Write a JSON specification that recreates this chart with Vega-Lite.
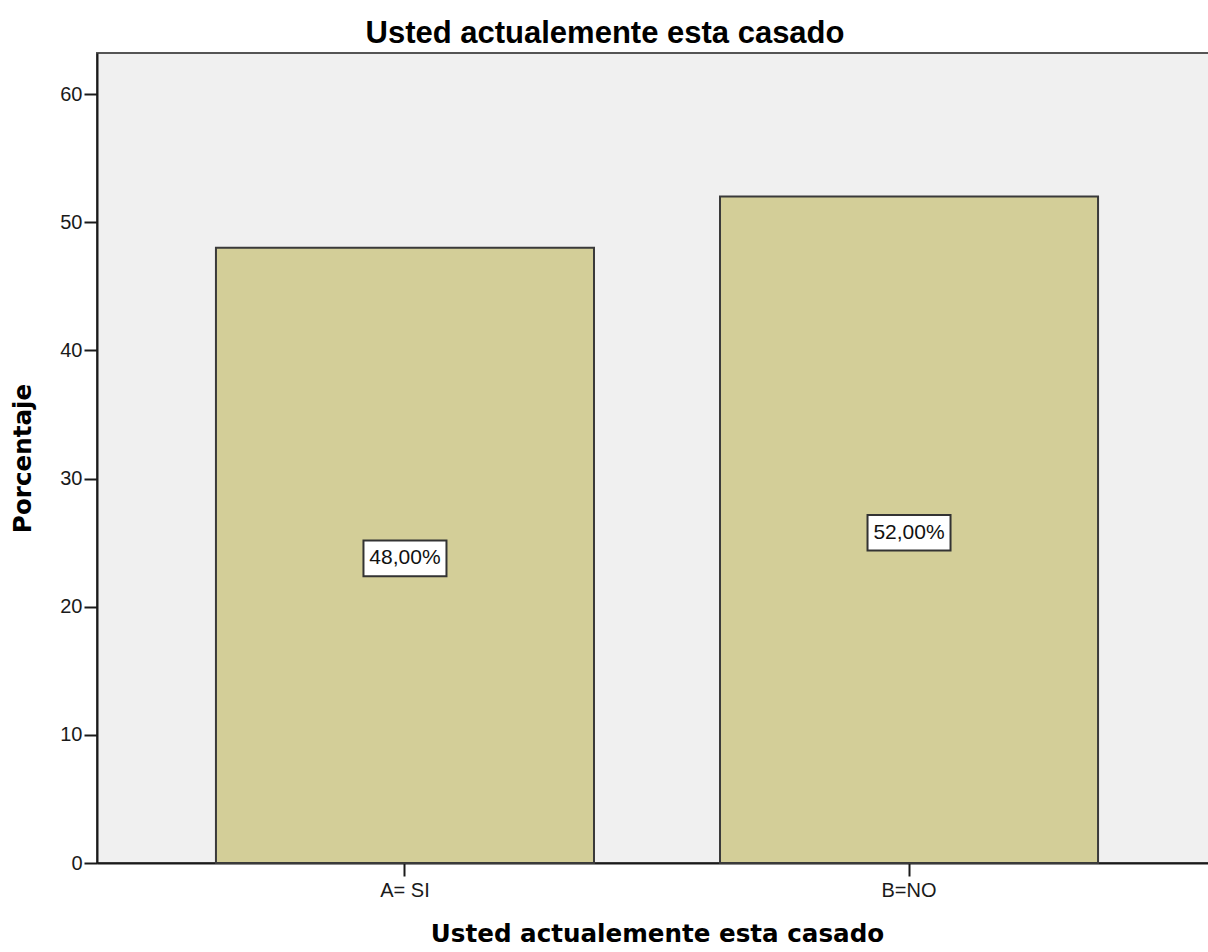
{
  "$schema": "https://vega.github.io/schema/vega-lite/v6.json",
  "autosize": {"type": "none"},
  "padding": {"left": 97, "top": 53, "right": 0, "bottom": 89},
  "width": 1120,
  "height": 810,
  "background": "white",
  "title": {
    "text": "Usted actualemente esta casado",
    "font": "Liberation Sans",
    "fontSize": 31,
    "fontWeight": "bold",
    "color": "#000000",
    "anchor": "middle",
    "baseline": "alphabetic",
    "dx": -52,
    "dy": 32,
    "offset": 11
  },
  "data": {
    "values": [
      {"cat": "A= SI", "pct": 48.0, "label": "48,00%"},
      {"cat": "B=NO", "pct": 52.0, "label": "52,00%"}
    ]
  },
  "config": {
    "view": {"fill": "#F0F0F0", "stroke": "#555555", "strokeWidth": 2},
    "axis": {
      "grid": false,
      "domainColor": "#1a1a1a",
      "domainWidth": 2,
      "tickColor": "#1a1a1a",
      "tickWidth": 2,
      "tickSize": 13,
      "labelFont": "Liberation Sans",
      "labelFontSize": 20,
      "labelColor": "#1a1a1a",
      "titleFont": "DejaVu Sans",
      "titleFontWeight": "bold",
      "titleFontSize": 24.6,
      "titleColor": "#000000"
    }
  },
  "layer": [
    {
      "mark": {"type": "bar", "fill": "#D3CE98", "stroke": "#3a3a3a", "strokeWidth": 2},
      "encoding": {
        "x": {
          "field": "cat",
          "type": "nominal",
          "sort": null,
          "scale": {"paddingInner": 0.25, "paddingOuter": 0.236},
          "axis": {"title": "Usted actualemente esta casado", "labelAngle": 0, "labelPadding": 4, "titlePadding": 22}
        },
        "y": {
          "field": "pct",
          "type": "quantitative",
          "scale": {"domain": [0, 63.2], "nice": false},
          "axis": {"title": "Porcentaje", "values": [0, 10, 20, 30, 40, 50, 60], "labelPadding": 2, "titlePadding": 24}
        }
      }
    },
    {
      "layer": [
        {
          "mark": {
            "type": "point",
            "shape": "M-1,-0.43L1,-0.43L1,0.43L-1,0.43Z",
            "size": 6889,
            "filled": true,
            "fill": "#ffffff",
            "stroke": "#333333",
            "strokeWidth": 2,
            "opacity": 1,
            "yOffset": 3
          },
          "encoding": {
            "x": {"field": "cat", "type": "nominal", "sort": null},
            "y": {"field": "pct", "type": "quantitative", "scale": {"domain": [0, 126.4], "nice": false}, "axis": null}
          }
        },
        {
          "mark": {
            "type": "text",
            "font": "Liberation Sans",
            "fontSize": 21,
            "color": "#111111",
            "baseline": "middle",
            "align": "center",
            "yOffset": 3
          },
          "encoding": {
            "x": {"field": "cat", "type": "nominal", "sort": null},
            "y": {"field": "pct", "type": "quantitative", "scale": {"domain": [0, 126.4], "nice": false}, "axis": null},
            "text": {"field": "label"}
          }
        }
      ]
    }
  ],
  "resolve": {"scale": {"y": "independent"}}
}
